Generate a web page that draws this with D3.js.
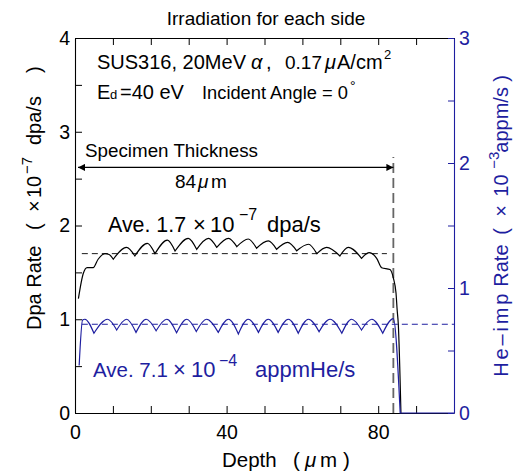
<!DOCTYPE html>
<html><head><meta charset="utf-8">
<script src="https://cdn.jsdelivr.net/npm/d3@7"></script>
<style>
html,body{margin:0;padding:0;background:#fff;}
svg{display:block;font-family:"Liberation Sans",Arial,Helvetica,sans-serif;}
</style></head><body>
<svg id="chart" width="513" height="473"></svg>
<script>
// Displacement rate profile: depth (µm) vs rate (×10^-7 dpa/s)
const dpaDepth = [0.9, 2.2, 3.2, 4.8, 6.1, 7.9, 9.0, 10.1, 13.6, 15.8, 19.1, 21.1, 24.4, 26.4, 29.9, 32.1,
  35.2, 37.4, 40.5, 42.7, 45.7, 47.9, 51.0, 53.2, 56.1, 58.5, 61.6, 63.8, 66.4, 69.9, 72.1, 75.6,
  77.6, 79.6, 80.9, 83.1, 84.0, 84.7, 85.0, 85.3, 86.0];
const dpaRate = [1.22, 1.49, 1.55, 1.55, 1.64, 1.70, 1.69, 1.64, 1.767, 1.675, 1.81, 1.70, 1.845, 1.728, 1.863, 1.746,
  1.863, 1.767, 1.863, 1.774, 1.856, 1.757, 1.835, 1.746, 1.82, 1.73, 1.80, 1.70, 1.767, 1.675, 1.767, 1.65,
  1.71, 1.65, 1.55, 1.53, 1.44, 1.28, 1.10, 0.95, 0];

// Helium implantation rate profile: depth (µm) vs rate (×10^-3 appm/s)
const heDepth = [1.1, 2.0, 2.6, 5.0, 8.6, 11.0, 13.6, 16.1, 18.8, 21.4, 24.2, 26.8, 29.5, 32.0, 34.7, 37.8,
  40.5, 43.1, 45.7, 48.4, 51.0, 53.6, 56.3, 58.9, 61.6, 64.4, 67.3, 70.4, 73.0, 75.6, 78.3, 81.2,
  84.0, 85.8, 100];
const heRate = [0.38, 0.744, 0.75, 0.638, 0.75, 0.664, 0.75, 0.645, 0.75, 0.658, 0.75, 0.642, 0.75, 0.652, 0.75, 0.645,
  0.75, 0.632, 0.75, 0.645, 0.75, 0.645, 0.75, 0.638, 0.75, 0.65, 0.75, 0.638, 0.75, 0.664, 0.75, 0.638,
  0.755, 0, 0];

// Averages stated in the annotations
const dpaAverage = 1.7;   // ×10^-7 dpa/s
const heAverage = 0.71;   // ×10^-3 appm/s
const averageFrom = 1.8;
const dpaAverageTo = 82.3;
const thicknessStart = 0;
const thickness = 84;     // µm
const thicknessMarkerTop = 2.73;
const thicknessArrowLevel = 2.62;

const xTicks = [0, 10, 20, 30, 40, 50, 60, 70, 80, 90, 100];
const xTickLabels = [0, 40, 80];
const leftTicks = [0, 0.5, 1, 1.5, 2, 2.5, 3, 3.5, 4];
const leftTickLabels = [0, 1, 2, 3, 4];
const rightTicks = [0, 0.5, 1, 1.5, 2, 2.5, 3];
const rightTickLabels = [0, 1, 2, 3];

const BLUE = "#1e1ea0";
const svg = d3.select("#chart");

const x = d3.scaleLinear().domain([0, 100]).range([75, 454]);
const yL = d3.scaleLinear().domain([0, 4]).range([413, 38]);
const yR = d3.scaleLinear().domain([0, 3]).range([413, 38]);

// Axes with inward ticks
function styleAxis(g, color) {
  g.selectAll("path.domain").attr("stroke", color).attr("stroke-width", 1.1);
  g.selectAll(".tick line").attr("stroke", color).attr("stroke-width", 1);
  g.selectAll(".tick text").attr("fill", color).attr("font-size", 19.5)
    .attr("font-family", "Liberation Sans, Arial, sans-serif");
}

const gB = svg.append("g").attr("transform", `translate(0,${yL(0)})`)
  .call(d3.axisBottom(x).tickValues(xTicks).tickSizeInner(-7).tickSizeOuter(0).tickPadding(12)
    .tickFormat(d => xTickLabels.includes(d) ? d : ""));
styleAxis(gB, "#000");

const gT = svg.append("g").attr("transform", `translate(0,${yL(4)})`)
  .call(d3.axisTop(x).tickValues(xTicks).tickSizeInner(-7).tickSizeOuter(0).tickFormat(""));
styleAxis(gT, "#000");

const gL = svg.append("g").attr("transform", `translate(${x(0)},0)`)
  .call(d3.axisLeft(yL).tickValues(leftTicks).tickSizeInner(-7).tickSizeOuter(0).tickPadding(5)
    .tickFormat(d => leftTickLabels.includes(d) ? d : ""));
styleAxis(gL, "#000");

const gR = svg.append("g").attr("transform", `translate(${x(100)},0)`)
  .call(d3.axisRight(yR).tickValues(rightTicks).tickSizeInner(-6).tickSizeOuter(0).tickPadding(5)
    .tickFormat(d => rightTickLabels.includes(d) ? d : ""));
styleAxis(gR, BLUE);

// Profile path: smooth arches between local minima, sharp at the minima
function archPath(xs, ys, sx, sy) {
  const pts = xs.map((d, i) => [sx(d), sy(ys[i])]);
  const breaks = [0];
  for (let i = 1; i < pts.length - 1; i++) {
    if (ys[i] < ys[i - 1] && ys[i] <= ys[i + 1]) breaks.push(i);
  }
  breaks.push(pts.length - 1);
  const gen = d3.line().curve(d3.curveMonotoneX);
  let d = "";
  for (let k = 0; k < breaks.length - 1; k++) {
    let s = gen(pts.slice(breaks[k], breaks[k + 1] + 1));
    if (k > 0) s = s.replace(/^M/, "L");
    d += s;
  }
  return d;
}

// Average lines
svg.append("line")
  .attr("x1", x(averageFrom)).attr("x2", x(dpaAverageTo))
  .attr("y1", yL(dpaAverage)).attr("y2", yL(dpaAverage))
  .attr("stroke", "#000").attr("stroke-width", 0.9).attr("stroke-dasharray", "6,4");
svg.append("line")
  .attr("x1", x(averageFrom)).attr("x2", x(100))
  .attr("y1", yR(heAverage)).attr("y2", yR(heAverage))
  .attr("stroke", BLUE).attr("stroke-width", 1).attr("stroke-dasharray", "6,4");

// Specimen thickness marker
svg.append("line")
  .attr("x1", x(thickness)).attr("x2", x(thickness))
  .attr("y1", yL(0)).attr("y2", yL(thicknessMarkerTop))
  .attr("stroke", "#666").attr("stroke-width", 1.8).attr("stroke-dasharray", "10,5");

const defs = svg.append("defs");
defs.append("marker").attr("id", "arrEnd").attr("viewBox", "0 0 10 10")
  .attr("refX", 10).attr("refY", 5).attr("markerWidth", 10).attr("markerHeight", 7)
  .attr("markerUnits", "userSpaceOnUse").attr("orient", "auto")
  .append("path").attr("d", "M0,0L10,5L0,10Z").attr("fill", "#000");
defs.append("marker").attr("id", "arrStart").attr("viewBox", "0 0 10 10")
  .attr("refX", 0).attr("refY", 5).attr("markerWidth", 10).attr("markerHeight", 7)
  .attr("markerUnits", "userSpaceOnUse").attr("orient", "auto")
  .append("path").attr("d", "M10,0L0,5L10,10Z").attr("fill", "#000");
svg.append("line")
  .attr("x1", x(thicknessStart) + 3).attr("x2", x(thickness))
  .attr("y1", yL(thicknessArrowLevel)).attr("y2", yL(thicknessArrowLevel))
  .attr("stroke", "#000").attr("stroke-width", 1.1)
  .attr("marker-start", "url(#arrStart)").attr("marker-end", "url(#arrEnd)");

// Profiles
svg.append("path").attr("d", archPath(dpaDepth, dpaRate, x, yL))
  .attr("fill", "none").attr("stroke", "#000").attr("stroke-width", 1.2);
svg.append("path").attr("d", archPath(heDepth, heRate, x, yR))
  .attr("fill", "none").attr("stroke", BLUE).attr("stroke-width", 1.2);

// Text helper: pieces placed at explicit positions
function pieces(parent, y, items, attrs) {
  const t = parent.append("text").attr("y", y);
  Object.entries(attrs || {}).forEach(([k, v]) => t.attr(k, v));
  items.forEach(it => {
    const s = t.append("tspan").attr("x", it.x).text(it.t);
    s.attr("y", it.y !== undefined ? it.y : y);
    if (it.size) s.attr("font-size", it.size);
    if (it.italic) s.attr("font-style", "italic");
    if (it.len) s.attr("textLength", it.len).attr("lengthAdjust", "spacing");
  });
  return t;
}

// Title
svg.append("text").attr("x", 266).attr("y", 25).attr("text-anchor", "middle")
  .attr("font-size", 19).text("Irradiation for each side");

// Conditions
pieces(svg, 69, [
  { x: 97, t: "SUS316, 20MeV" },
  { x: 251, t: "α", italic: true },
  { x: 266, t: "," },
  { x: 285, t: "0.17", size: 19 },
  { x: 325, t: "μ", italic: true },
  { x: 337, t: "A/cm" },
  { x: 384, t: "2", y: 59, size: 13 }
], { "font-size": 20 });

pieces(svg, 99, [
  { x: 97, t: "E" },
  { x: 110, t: "d", size: 13 },
  { x: 120, t: "=40 eV" },
  { x: 202, t: "Incident Angle = 0", size: 18.3 },
  { x: 350, t: "°", y: 91, size: 14 }
], { "font-size": 20 });

// Thickness annotation
svg.append("text").attr("x", 85).attr("y", 157).attr("font-size", 18.8).text("Specimen Thickness");
pieces(svg, 188, [
  { x: 175, t: "84" },
  { x: 198, t: "μ", italic: true },
  { x: 211, t: "m" }
], { "font-size": 19 });

// Average annotations
pieces(svg, 231.5, [
  { x: 108, t: "Ave. 1.7", size: 21.4 },
  { x: 193, t: "×", size: 22 },
  { x: 210, t: "10", size: 22 },
  { x: 239, t: "−7", y: 220, size: 16 },
  { x: 267, t: "dpa/s", size: 22 }
], { "font-size": 21, fill: "#000" });

pieces(svg, 377, [
  { x: 93, t: "Ave. 7.1", size: 20.5 },
  { x: 173, t: "×", size: 22 },
  { x: 191, t: "10", size: 22 },
  { x: 219, t: "−4", y: 366, size: 16 },
  { x: 255, t: "appmHe/s", size: 22 }
], { "font-size": 21, fill: BLUE });

// Axis titles
pieces(svg, 467, [
  { x: 222, t: "Depth" },
  { x: 293, t: "(" },
  { x: 305, t: "μ", italic: true },
  { x: 320, t: "m" },
  { x: 343, t: ")" }
], { "font-size": 20.5 });

const gLT = svg.append("g").attr("transform", "translate(41,330) rotate(-90)");
pieces(gLT, 0, [
  { x: 0, t: "Dpa Rate" },
  { x: 100, t: "(" },
  { x: 118, t: "×" },
  { x: 132, t: "10" },
  { x: 156, t: "−7", y: -9, size: 15 },
  { x: 185, t: "dpa/s" },
  { x: 257, t: ")" }
], { "font-size": 20 });

const gRT = svg.append("g").attr("transform", "translate(508,376.7) rotate(-90)");
pieces(gRT, 0, [
  { x: 0, t: "He–imp", len: 83 },
  { x: 90, t: "Rate" },
  { x: 142, t: "(" },
  { x: 160, t: "×" },
  { x: 180, t: "10" },
  { x: 208, t: "−3", y: -9, size: 15 },
  { x: 224, t: "appm/s" },
  { x: 295, t: ")" }
], { "font-size": 20, fill: BLUE });
</script>
</body></html>
